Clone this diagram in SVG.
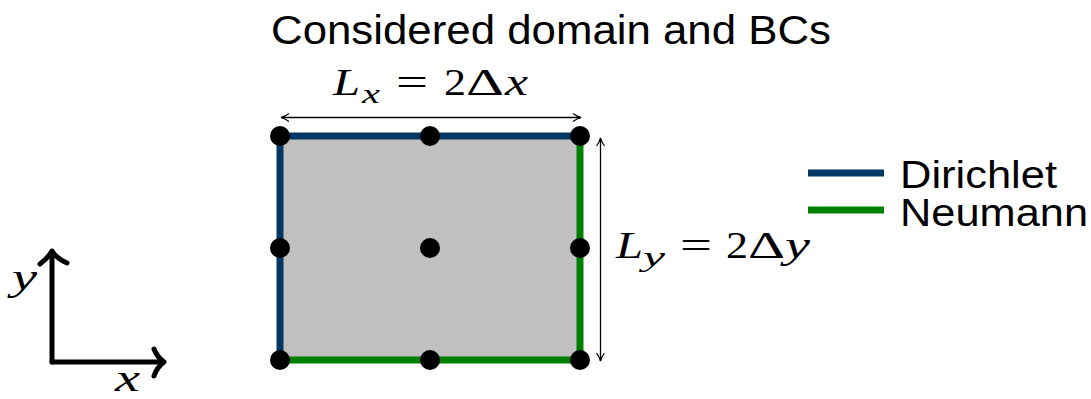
<svg xmlns="http://www.w3.org/2000/svg" width="1091" height="399" viewBox="0 0 1091 399">
  <defs>
    <style>
      .sans { font-family: "Liberation Sans", Arial, sans-serif; font-size: 40px; fill: #000; }
      .leg { font-size: 38px; }
      .math { font-family: "Liberation Serif", "Times New Roman", serif; font-size: 38px; fill: #000; }
      .it { font-style: italic; }
      .dir { stroke: #003865; stroke-width: 7; fill: none; }
      .neu { stroke: #008000; stroke-width: 7; fill: none; }
      .dim { stroke: #000; stroke-width: 1.3; fill: none; }
      .axis { stroke: #000; stroke-width: 5; fill: none; stroke-linecap: round; stroke-linejoin: round; }
      .dot { fill: #000; }
    </style>
    <marker id="dimhead" viewBox="0 0 10 10" refX="9" refY="5" markerWidth="10" markerHeight="10" markerUnits="userSpaceOnUse" orient="auto-start-reverse">
      <path d="M1,1 Q5,4 9,5 Q5,6 1,9" stroke="#000" stroke-width="1.2" fill="none"/>
    </marker>
  </defs>

  <text class="sans" x="271" y="44" textLength="560" lengthAdjust="spacingAndGlyphs">Considered domain and BCs</text>

  <g id="domain">
    <rect x="280" y="136" width="300" height="224" fill="#c0c0c0"/>
  </g>

  <g id="boundaries">
    <path class="dir" d="M280,360 L280,136 L580,136"/>
    <path class="neu" d="M580,136 L580,360 L280,360"/>
  </g>

  <g id="nodes">
    <circle class="dot" cx="280" cy="136" r="10"/>
    <circle class="dot" cx="430" cy="136" r="10"/>
    <circle class="dot" cx="580" cy="136" r="10"/>
    <circle class="dot" cx="280" cy="248" r="10"/>
    <circle class="dot" cx="430" cy="248" r="10"/>
    <circle class="dot" cx="580" cy="248" r="10"/>
    <circle class="dot" cx="280" cy="360" r="10"/>
    <circle class="dot" cx="430" cy="360" r="10"/>
    <circle class="dot" cx="580" cy="360" r="10"/>
  </g>

  <g id="connectors">
    <line class="dim" x1="281" y1="117.5" x2="581" y2="117.5" marker-start="url(#dimhead)" marker-end="url(#dimhead)"/>
    <line class="dim" x1="600.5" y1="138" x2="600.5" y2="361" marker-start="url(#dimhead)" marker-end="url(#dimhead)"/>
  </g>

  <g id="label-lx">
    <text class="math"><tspan class="it" x="333" y="95" textLength="27" lengthAdjust="spacingAndGlyphs">L</tspan><tspan class="it" x="362" y="103" font-size="27" textLength="18" lengthAdjust="spacingAndGlyphs">x</tspan><tspan x="396" y="95" textLength="32" lengthAdjust="spacingAndGlyphs">=</tspan><tspan x="444" y="95" textLength="22" lengthAdjust="spacingAndGlyphs">2</tspan><tspan x="466" y="95" textLength="38" lengthAdjust="spacingAndGlyphs">Δ</tspan><tspan class="it" x="505" y="95" textLength="23" lengthAdjust="spacingAndGlyphs">x</tspan></text>
  </g>

  <g id="label-ly">
    <text class="math"><tspan class="it" x="616" y="258" textLength="27" lengthAdjust="spacingAndGlyphs">L</tspan><tspan class="it" x="643" y="266" font-size="27" textLength="22" lengthAdjust="spacingAndGlyphs">y</tspan><tspan x="680" y="258" textLength="32" lengthAdjust="spacingAndGlyphs">=</tspan><tspan x="726" y="258" textLength="22" lengthAdjust="spacingAndGlyphs">2</tspan><tspan x="748" y="258" textLength="37" lengthAdjust="spacingAndGlyphs">Δ</tspan><tspan class="it" x="785" y="258" textLength="25" lengthAdjust="spacingAndGlyphs">y</tspan></text>
  </g>

  <g id="legend">
    <line class="dir" x1="808" y1="173" x2="884" y2="173"/>
    <line class="neu" x1="808" y1="210" x2="884" y2="210"/>
    <text class="sans leg" x="900" y="188" textLength="157" lengthAdjust="spacingAndGlyphs">Dirichlet</text>
    <text class="sans leg" x="900" y="226" textLength="188" lengthAdjust="spacingAndGlyphs">Neumann</text>
  </g>

  <g id="axes">
    <path class="axis" d="M52,362 L52,252"/>
    <path class="axis" d="M40,264 Q48,258 52,251 Q56,258 67,263"/>
    <path class="axis" d="M52,362 L163,362"/>
    <path class="axis" d="M154,349 Q157,357 164,362 Q157,367 154,376"/>
    <text class="math it" x="12" y="290" font-size="40" textLength="25" lengthAdjust="spacingAndGlyphs">y</text>
    <text class="math it" x="115" y="391" font-size="36" textLength="25" lengthAdjust="spacingAndGlyphs">x</text>
  </g>
</svg>
